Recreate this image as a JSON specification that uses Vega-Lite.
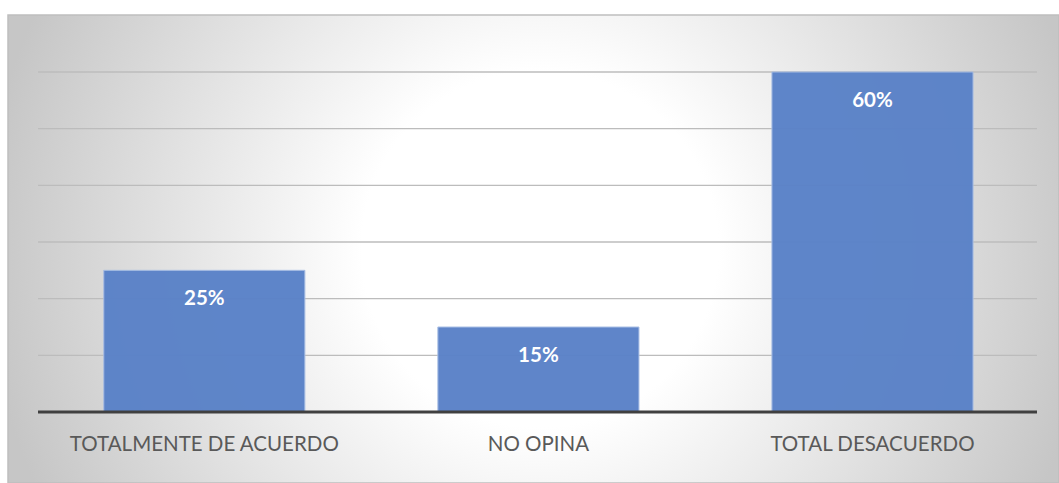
{
  "$schema": "https://vega.github.io/schema/vega-lite/v6.json",
  "width": 1051,
  "height": 468,
  "autosize": "none",
  "padding": {"left": 8, "top": 15, "right": 0, "bottom": 0},
  "background": "#ffffff",
  "config": {
    "view": {
      "fill": {
        "gradient": "radial",
        "x1": 0.506, "y1": 0.5, "r1": 0,
        "x2": 0.506, "y2": 0.5, "r2": 0.53,
        "stops": [
          {"offset": 0, "color": "#ffffff"},
          {"offset": 0.32, "color": "#ffffff"},
          {"offset": 1, "color": "#c6c6c6"}
        ]
      },
      "stroke": "#bfbfbf",
      "strokeWidth": 1.5
    },
    "font": "Lato"
  },
  "datasets": {
    "respuestas": [
      {"categoria": "TOTALMENTE DE ACUERDO", "valor": 0.25},
      {"categoria": "NO OPINA", "valor": 0.15},
      {"categoria": "TOTAL DESACUERDO", "valor": 0.60}
    ],
    "rejilla": [
      {"nivel": 0.1}, {"nivel": 0.2}, {"nivel": 0.3},
      {"nivel": 0.4}, {"nivel": 0.5}, {"nivel": 0.6}
    ]
  },
  "resolve": {"scale": {"x": "independent"}},
  "layer": [
    {
      "data": {"name": "rejilla"},
      "mark": {"type": "rule", "color": "#bcbcbc", "strokeWidth": 1.3},
      "encoding": {
        "y": {"field": "nivel", "type": "quantitative", "scale": {"domain": [-0.1253, 0.7006], "nice": false, "zero": false}, "axis": null},
        "x": {"datum": 0, "type": "quantitative", "scale": {"domain": [-0.03003, 1.02202], "nice": false, "zero": false}, "axis": null},
        "x2": {"datum": 1}
      }
    },
    {
      "data": {"name": "respuestas"},
      "mark": {"type": "bar", "color": "#5a82c8", "opacity": 0.97, "stroke": "#a7bde4", "strokeWidth": 1},
      "encoding": {
        "x": {"field": "categoria", "type": "nominal", "sort": null, "axis": null,
              "scale": {"type": "band", "paddingInner": 0.398, "paddingOuter": 0.272, "align": 0.527}},
        "y": {"field": "valor", "type": "quantitative", "axis": null}
      }
    },
    {
      "data": {"name": "respuestas"},
      "mark": {"type": "text", "color": "#ffffff", "fontWeight": "bold", "fontSize": 20.5, "baseline": "middle", "dy": 29},
      "encoding": {
        "x": {"field": "categoria", "type": "nominal", "sort": null, "axis": null,
              "scale": {"type": "band", "paddingInner": 0.398, "paddingOuter": 0.272, "align": 0.527}},
        "y": {"field": "valor", "type": "quantitative", "axis": null},
        "text": {"field": "valor", "type": "quantitative", "format": ".0%"}
      }
    },
    {
      "data": {"name": "respuestas"},
      "mark": {"type": "text", "color": "#595959", "fontSize": 20.5, "baseline": "middle", "dy": 33},
      "encoding": {
        "x": {"field": "categoria", "type": "nominal", "sort": null, "axis": null,
              "scale": {"type": "band", "paddingInner": 0.398, "paddingOuter": 0.272, "align": 0.527}},
        "y": {"datum": 0, "type": "quantitative", "axis": null},
        "text": {"field": "categoria", "type": "nominal"}
      }
    },
    {
      "data": {"values": [{}]},
      "mark": {"type": "rule", "color": "#404040", "strokeWidth": 3},
      "encoding": {
        "y": {"datum": 0, "type": "quantitative", "axis": null},
        "x": {"datum": 0, "type": "quantitative", "scale": {"domain": [-0.03003, 1.02202], "nice": false, "zero": false}, "axis": null},
        "x2": {"datum": 1}
      }
    }
  ]
}
